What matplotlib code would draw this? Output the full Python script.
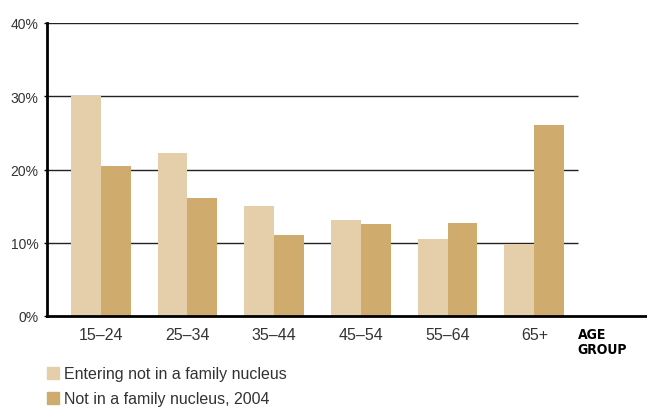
import matplotlib
matplotlib.use("Agg")
import matplotlib.pyplot as plt
from matplotlib.patches import Rectangle
import numpy as np

# Share of each age group (%)
age_groups = ["15–24", "25–34", "35–44", "45–54", "55–64", "65+"]
entering = [30.0, 22.3, 15.0, 13.1, 10.5, 9.8]
not_in_2004 = [20.5, 16.1, 11.1, 12.6, 12.7, 26.1]
y_ticks = [0, 10, 20, 30, 40]
y_tick_labels = ["0%", "10%", "20%", "30%", "40%"]
legend_labels = ["Entering not in a family nucleus", "Not in a family nucleus, 2004"]

light = "#E5CFAB"
dark = "#CFAB6D"
text_col = "#333333"
font = "Liberation Sans"

fig = plt.figure(figsize=(6.47, 4.10), dpi=100)
ax = fig.add_axes([47 / 647, 1 - 317 / 410, 600 / 647, 293 / 410])

x = np.arange(len(age_groups))
w = 0.345
ax.bar(x - w / 2, entering, width=w, color=light, zorder=3)
ax.bar(x + w / 2, not_in_2004, width=w, color=dark, zorder=3)

left, grid_end, right = -0.62, 5.5, 6.3
ax.set_xlim(left, right)
ax.set_ylim(0, 40)
ax.hlines([10, 20, 30, 40], left, grid_end, colors="#222222", lw=1.0, zorder=2)

for s in ["top", "right"]:
    ax.spines[s].set_visible(False)
ax.spines["left"].set_linewidth(2)
ax.spines["bottom"].set_linewidth(2)
ax.spines["left"].set_zorder(4)
ax.spines["bottom"].set_zorder(4)

ax.set_yticks(y_ticks)
ax.set_yticklabels(y_tick_labels, fontsize=10, color=text_col, family=font)
ax.tick_params(axis="y", length=2.5, width=1, pad=3.5, color="black")
ax.set_xticks(x)
ax.set_xticklabels(age_groups, fontsize=11.5, color=text_col, family=font)
ax.tick_params(axis="x", length=0, pad=8)

ax.text(grid_end, -1.5, "AGE\nGROUP", ha="left", va="top", fontsize=10,
        fontweight="bold", family="DejaVu Sans", fontstretch="condensed",
        color="black", linespacing=1.05)

# Legend drawn in figure pixels
for i, (lab, col) in enumerate(zip(legend_labels, [light, dark])):
    top = 368 + 25 * i
    fig.patches.append(Rectangle((47 / 647, 1 - (top + 12) / 410), 12 / 647, 12 / 410,
                                 transform=fig.transFigure, color=col))
    fig.text(64 / 647, 1 - (top + 6.5) / 410, lab, ha="left", va="center",
             fontsize=11.5, color=text_col, family=font)

fig.savefig("out.png", dpi=100)
